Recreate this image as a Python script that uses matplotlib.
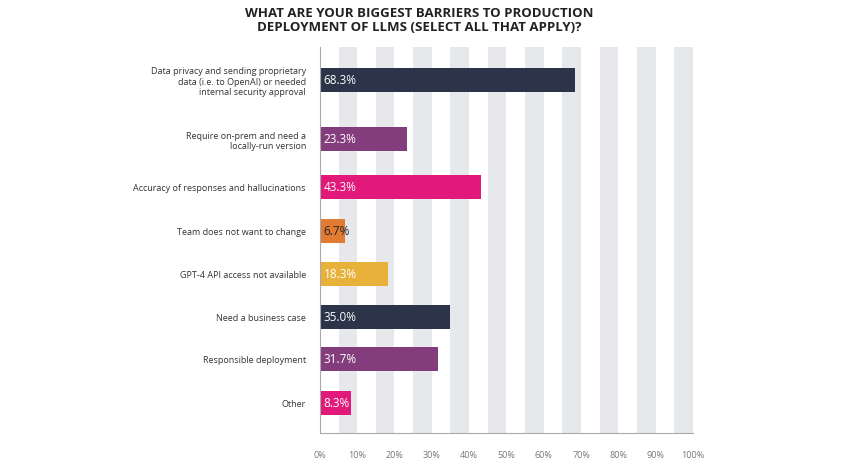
import matplotlib.pyplot as plt
import numpy as np

labels = [
    "Data privacy and sending proprietary\ndata (i.e. to OpenAI) or needed\ninternal security approval",
    "Require on-prem and need a\nlocally-run version",
    "Accuracy of responses and hallucinations",
    "Team does not want to change",
    "GPT-4 API access not available",
    "Need a business case",
    "Responsible deployment",
    "Other",
]
values = [68.3, 23.3, 43.3, 6.7, 18.3, 35.0, 31.7, 8.3]
colors = ["#2b3449", "#843d7c", "#e0197a", "#e07b31", "#e8b13a", "#2b3449", "#843d7c", "#e0197a"]
ticks = list(range(0, 101, 10))

plt.rcParams['font.family'] = ['Open Sans', 'DejaVu Sans']
fig = plt.figure(figsize=(8.44, 4.6), dpi=100)
ax = fig.add_axes([0.379, 0.0565, 0.442, 0.84])

ypos = np.array([81, 140, 188, 232, 275, 318, 360, 404])
for s in range(5, 100, 10):
    ax.axvspan(s, s + 5, color="#e6e8eb", lw=0, zorder=0)

ax.barh(ypos, values, height=24, color=colors, zorder=2)
for y, v, c in zip(ypos, values, colors):
    tc = "#222222" if c == "#e07b31" else "white"
    ax.text(1, y, f"{v:.1f}%", va="center", ha="left", color=tc, fontsize=8.5, zorder=3)

ax.set_ylim(434, 48)
ax.set_xlim(0, 100)
ax.set_yticks(ypos)
ax.set_yticklabels(labels, fontsize=6.5, color="#333333", ha="right")
ax.set_xticks(ticks)
ax.set_xticklabels([f"{t}%" for t in ticks], fontsize=6.5, color="#777777")
ax.tick_params(length=0, axis="both")
ax.tick_params(axis="x", pad=12)
ax.tick_params(axis="y", pad=10)
for sp in ["top", "right"]:
    ax.spines[sp].set_visible(False)
ax.spines["left"].set_color("#aaaaaa")
ax.spines["bottom"].set_color("#aaaaaa")

fig.text(0.497, 0.985, "WHAT ARE YOUR BIGGEST BARRIERS TO PRODUCTION\nDEPLOYMENT OF LLMS (SELECT ALL THAT APPLY)?",
         ha="center", va="top", fontsize=9.5, fontweight="bold", color="#222222", linespacing=1.1)

fig.savefig("out.png", dpi=100, facecolor="white")
